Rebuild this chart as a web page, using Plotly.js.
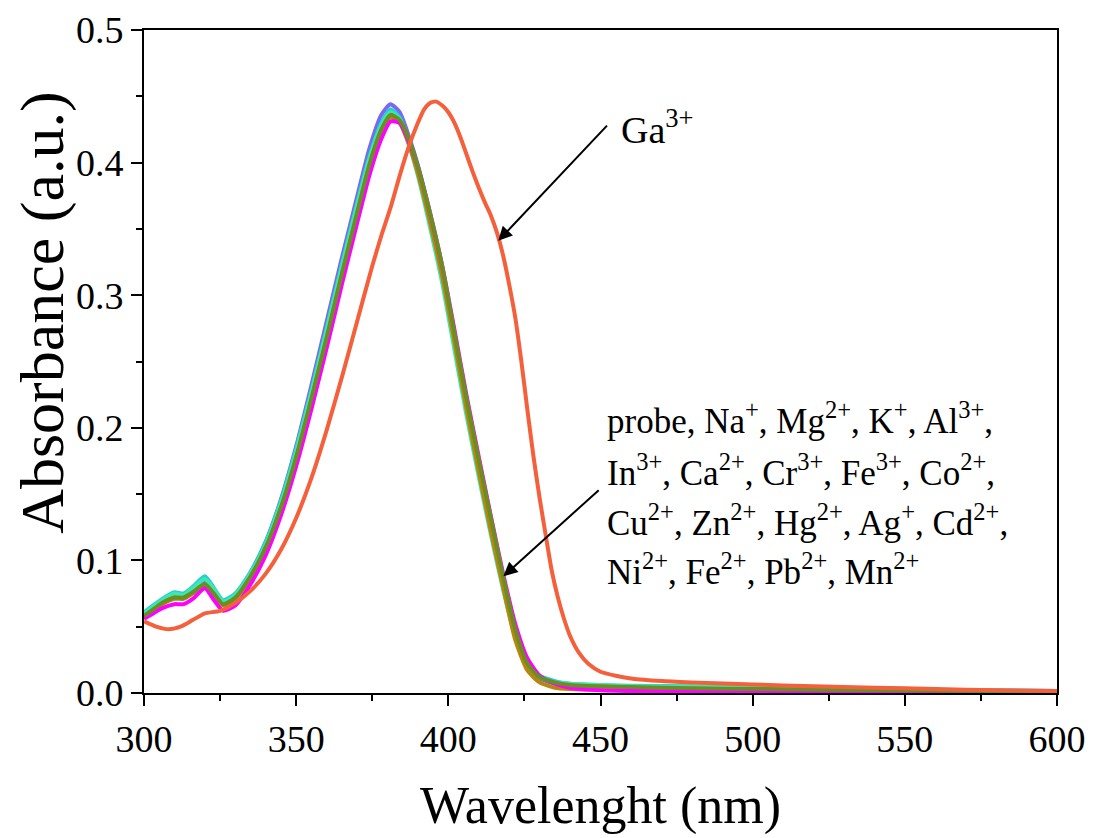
<!DOCTYPE html>
<html>
<head>
<meta charset="utf-8">
<script src="https://cdn.plot.ly/plotly-3.0.1.min.js"></script>
<style>html,body{margin:0;padding:0;background:#fff;}#chart{width:1095px;height:838px;}</style>
</head>
<body>
<div id="chart"></div>
<script>
// Wavelength grid (nm) shared by the overlapping probe/ion spectra
const wavelength = [300,303,306,310,313,316,320,323,326,330,335,340,345,350,355,360,365,370,374,378,381,384,387,390,394,398,402,406,410,414,418,422,426,430,435,440,450,460,480,500,550,600];

const absBlue    = [0.059,0.064,0.069,0.073,0.073,0.077,0.084,0.076,0.068,0.074,0.091,0.114,0.146,0.186,0.232,0.280,0.328,0.374,0.410,0.436,0.444,0.438,0.420,0.398,0.360,0.318,0.268,0.216,0.170,0.126,0.082,0.043,0.020,0.011,0.007,0.006,0.005,0.0045,0.004,0.0035,0.0025,0.0015];
const absCyan    = [0.061,0.066,0.071,0.076,0.075,0.080,0.088,0.079,0.070,0.075,0.091,0.114,0.145,0.184,0.228,0.275,0.323,0.369,0.404,0.430,0.440,0.434,0.416,0.392,0.354,0.312,0.262,0.212,0.166,0.122,0.080,0.044,0.023,0.013,0.009,0.007,0.006,0.0055,0.005,0.004,0.0025,0.0015];
const absAqua    = [0.060,0.065,0.070,0.075,0.074,0.079,0.086,0.078,0.069,0.074,0.090,0.112,0.143,0.182,0.226,0.273,0.321,0.367,0.402,0.428,0.438,0.433,0.414,0.390,0.351,0.309,0.259,0.209,0.163,0.119,0.078,0.042,0.021,0.012,0.008,0.007,0.006,0.005,0.0045,0.004,0.0025,0.0015];
const absGold    = [0.057,0.062,0.067,0.071,0.071,0.075,0.081,0.074,0.066,0.071,0.087,0.109,0.139,0.177,0.221,0.267,0.315,0.361,0.397,0.424,0.434,0.430,0.414,0.392,0.355,0.314,0.265,0.214,0.167,0.122,0.080,0.040,0.017,0.008,0.004,0.003,0.0025,0.002,0.002,0.0015,0.001,0.0005];
const absMagenta = [0.056,0.060,0.064,0.067,0.067,0.071,0.079,0.070,0.062,0.066,0.082,0.104,0.134,0.171,0.214,0.260,0.308,0.354,0.390,0.418,0.431,0.430,0.416,0.397,0.362,0.322,0.274,0.224,0.178,0.133,0.090,0.052,0.026,0.013,0.007,0.004,0.002,0.0015,0.001,0.001,0.0005,0.0005];
const absOlive   = [0.058,0.063,0.068,0.072,0.072,0.076,0.082,0.075,0.067,0.072,0.088,0.110,0.140,0.178,0.222,0.268,0.316,0.362,0.398,0.425,0.436,0.432,0.418,0.397,0.362,0.322,0.272,0.222,0.176,0.132,0.088,0.048,0.022,0.012,0.008,0.006,0.005,0.0045,0.0035,0.003,0.002,0.001];

// Ga3+ spectrum
const wavelengthGa = [300,304,308,312,316,320,325,330,335,340,345,350,355,360,365,370,375,378,381,384,387,390,392,394,396,398,400,402,404,406,408,410,412,414,416,418,420,422,424,426,428,430,432,434,436,438,440,443,446,450,455,460,470,480,500,520,540,560,580,600];
const absGa = [0.054,0.050,0.048,0.050,0.055,0.060,0.062,0.068,0.077,0.090,0.108,0.132,0.162,0.198,0.238,0.280,0.322,0.345,0.366,0.390,0.412,0.430,0.440,0.445,0.446,0.443,0.438,0.430,0.419,0.406,0.393,0.381,0.370,0.360,0.347,0.330,0.308,0.283,0.250,0.213,0.178,0.147,0.119,0.092,0.072,0.056,0.043,0.030,0.022,0.016,0.013,0.011,0.009,0.008,0.0065,0.005,0.004,0.003,0.002,0.0015];

const seriesNames = ["Blue","Cyan","Aqua","Gold","Magenta","Olive"];
const seriesValues = [absBlue,absCyan,absAqua,absGold,absMagenta,absOlive];
const seriesColors = ["#7B68EE","#22CFD6","#3DE8B0","#B8860B","#FF00FF","#6B8E23"];

const gaLabel = "Ga<sup>3+</sup>";
const ionLines = [
  "probe, Na<sup>+</sup>, Mg<sup>2+</sup>, K<sup>+</sup>, Al<sup>3+</sup>,",
  "In<sup>3+</sup>, Ca<sup>2+</sup>, Cr<sup>3+</sup>, Fe<sup>3+</sup>, Co<sup>2+</sup>,",
  "Cu<sup>2+</sup>, Zn<sup>2+</sup>, Hg<sup>2+</sup>, Ag<sup>+</sup>, Cd<sup>2+</sup>,",
  "Ni<sup>2+</sup>, Fe<sup>2+</sup>, Pb<sup>2+</sup>, Mn<sup>2+</sup>"
];

const FONT = "Liberation Serif";

const traces = seriesValues.map((v,i)=>({
  x: wavelength, y: v, type: "scatter", mode: "lines", name: seriesNames[i],
  line: {color: seriesColors[i], width: 4, shape: "spline", smoothing: 0.6}
}));
traces.push({x: wavelengthGa, y: absGa, type: "scatter", mode: "lines", name: "Ga3+",
  line: {color: "#F5603C", width: 4, shape: "spline", smoothing: 0.6}});

const ionY = [0.207, 0.168, 0.130, 0.093];
const annotations = [
  {x: 456.0, y: 0.427, xref: "x", yref: "y", text: gaLabel, showarrow: false, xanchor: "left", yanchor: "middle",
   font: {family: FONT, size: 38, color: "#000"}},
  {x: 416.4, y: 0.341, ax: 452.6, ay: 0.429, xref: "x", yref: "y", axref: "x", ayref: "y", text: "", showarrow: true,
   arrowhead: 2, arrowsize: 1.4, arrowwidth: 2, arrowcolor: "#000"},
  {x: 418.1, y: 0.088, ax: 449.9, ay: 0.154, xref: "x", yref: "y", axref: "x", ayref: "y", text: "", showarrow: true,
   arrowhead: 2, arrowsize: 1.4, arrowwidth: 2, arrowcolor: "#000"},
  {x: -0.112, y: 0.573, xref: "paper", yref: "paper", text: "Absorbance (a.u.)", showarrow: false, textangle: -90,
   xanchor: "center", yanchor: "middle", font: {family: FONT, size: 62, color: "#000"}}
];
ionLines.forEach((t,i)=>annotations.push({x: 451.6, y: ionY[i], xref: "x", yref: "y", text: t, showarrow: false,
  xanchor: "left", yanchor: "middle", font: {family: FONT, size: 35, color: "#000"}}));

const layout = {
  width: 1095, height: 838,
  margin: {l: 144, r: 38, t: 30, b: 145},
  paper_bgcolor: "#fff", plot_bgcolor: "#fff",
  showlegend: false,
  font: {family: FONT, color: "#000"},
  xaxis: {
    range: [300, 600], dtick: 50, tick0: 300, ticks: "outside", ticklen: 11, tickwidth: 2, tickcolor: "#000",
    showline: true, linewidth: 2, linecolor: "#000", mirror: true, showgrid: false, zeroline: false,
    tickfont: {family: FONT, size: 38, color: "#000"},
    minor: {dtick: 25, ticks: "outside", ticklen: 6, tickwidth: 2, tickcolor: "#000", showgrid: false},
    title: {text: "Wavelenght (nm)", font: {family: FONT, size: 52, color: "#000"}, standoff: 28}
  },
  yaxis: {
    range: [0, 0.5], dtick: 0.1, tick0: 0, tickformat: ".1f", ticks: "outside", ticklen: 11, tickwidth: 2, tickcolor: "#000",
    showline: true, linewidth: 2, linecolor: "#000", mirror: true, showgrid: false, zeroline: false,
    tickfont: {family: FONT, size: 38, color: "#000"},
    minor: {dtick: 0.05, ticks: "outside", ticklen: 6, tickwidth: 2, tickcolor: "#000", showgrid: false}
  },
  annotations: annotations
};

Plotly.newPlot("chart", traces, layout, {displayModeBar: false, staticPlot: true});
</script>
</body>
</html>
